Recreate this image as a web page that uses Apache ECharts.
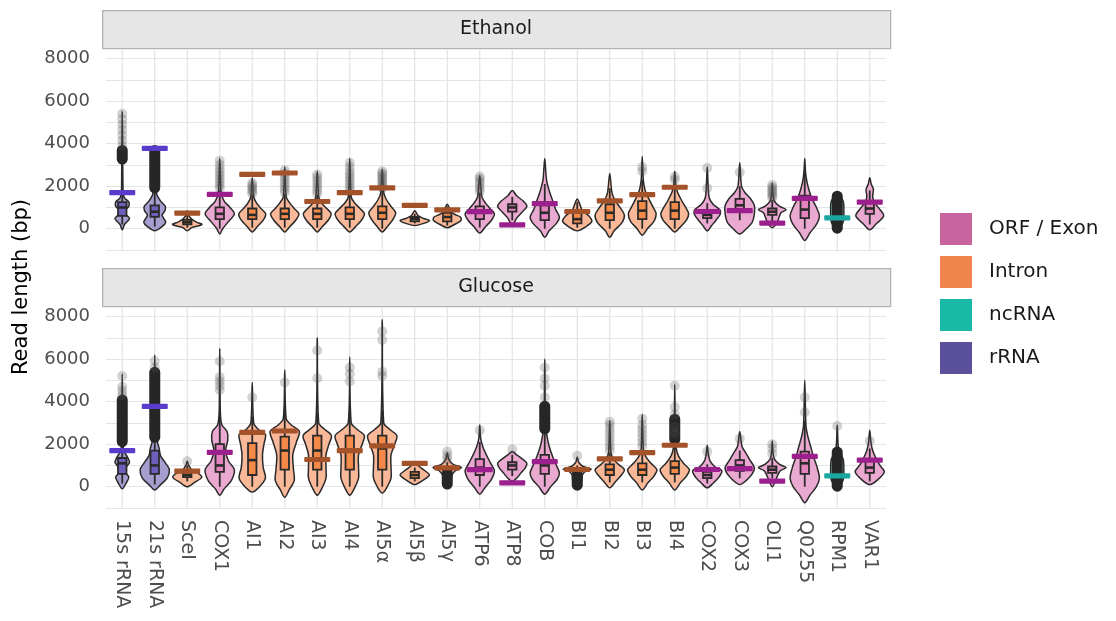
<!DOCTYPE html>
<html>
<head>
<meta charset="utf-8">
<script src="https://cdn.jsdelivr.net/npm/echarts@6/dist/echarts.min.js"></script>
<style>
  html, body { margin: 0; padding: 0; background: #fff; }
  #main { width: 1116px; height: 621px; }
</style>
</head>
<body>
<div id="main"></div>
<script>
// genes along the x axis
var categories = ['15s rRNA', '21s rRNA', 'SceI', 'COX1', 'AI1', 'AI2', 'AI3', 'AI4', 'AI5α', 'AI5β', 'AI5γ',
  'ATP6', 'ATP8', 'COB', 'BI1', 'BI2', 'BI3', 'BI4', 'COX2', 'COX3', 'OLI1', 'Q0255', 'RPM1', 'VAR1'];
var geneTypes = ['rRNA', 'rRNA', 'Intron', 'ORF / Exon', 'Intron', 'Intron', 'Intron', 'Intron', 'Intron', 'Intron', 'Intron',
  'ORF / Exon', 'ORF / Exon', 'ORF / Exon', 'Intron', 'Intron', 'Intron', 'Intron', 'ORF / Exon', 'ORF / Exon', 'ORF / Exon',
  'ORF / Exon', 'ncRNA', 'ORF / Exon'];
var typeNames = ['ORF / Exon', 'Intron', 'ncRNA', 'rRNA'];
// annotated length of each feature (bp)
var refLength = [1700, 3780, 730, 1610, 2550, 2620, 1280, 1700, 1920, 1100, 890, 800, 180, 1180, 810, 1310, 1600, 1950,
  810, 850, 260, 1430, 510, 1250];

// violin outlines: [read length, relative half width]
var ethanolViolin = [
  [[-50, 0], [200, 0.15], [480, 0.5], [700, 0.2], [850, 0.15], [1050, 0.45], [1250, 0.45], [1450, 0.15], [1700, 0.06], [2500, 0.04], [3500, 0.03], [5500, 0]],
  [[-100, 0], [100, 0.5], [300, 0.75], [500, 0.6], [650, 0.5], [850, 0.7], [1050, 0.72], [1300, 0.4], [1600, 0.15], [2000, 0.08], [3700, 0]],
  [[-100, 0], [50, 0.3], [200, 1.0], [320, 0.6], [450, 0.3], [600, 0.12], [850, 0]],
  [[-250, 0], [0, 0.2], [300, 0.55], [700, 1.0], [1000, 0.7], [1300, 0.3], [1700, 0.1], [2500, 0.04], [3300, 0]],
  [[-150, 0], [100, 0.35], [400, 0.75], [700, 0.92], [950, 0.6], [1200, 0.3], [1500, 0.1], [2400, 0]],
  [[-150, 0], [100, 0.35], [400, 0.75], [700, 0.97], [950, 0.65], [1200, 0.35], [1500, 0.1], [2900, 0]],
  [[-150, 0], [100, 0.35], [400, 0.75], [700, 0.95], [950, 0.65], [1200, 0.3], [1500, 0.1], [2700, 0]],
  [[-150, 0], [100, 0.4], [400, 0.8], [700, 1.0], [950, 0.7], [1200, 0.35], [1500, 0.1], [3300, 0]],
  [[-150, 0], [100, 0.35], [400, 0.7], [750, 0.92], [1050, 0.6], [1350, 0.3], [1700, 0.1], [2800, 0]],
  [[150, 0], [250, 0.6], [380, 1.0], [480, 0.6], [600, 0.25], [700, 0.15], [850, 0]],
  [[50, 0], [200, 0.5], [400, 0.95], [550, 0.9], [700, 0.45], [900, 0.2], [1150, 0]],
  [[-200, 0], [100, 0.4], [400, 0.8], [700, 1.0], [950, 0.7], [1200, 0.4], [1500, 0.15], [2500, 0]],
  [[150, 0], [300, 0.15], [500, 0.3], [800, 0.7], [1050, 1.0], [1300, 0.75], [1550, 0.3], [1800, 0]],
  [[-400, 0], [-100, 0.3], [250, 0.8], [550, 1.0], [900, 0.75], [1300, 0.55], [1800, 0.3], [2300, 0.12], [3300, 0]],
  [[-100, 0], [100, 0.6], [350, 1.0], [600, 0.8], [850, 0.35], [1100, 0.2], [1400, 0]],
  [[-400, 0], [-100, 0.3], [300, 0.85], [650, 1.0], [1000, 0.7], [1350, 0.35], [1700, 0.15], [2600, 0]],
  [[-300, 0], [0, 0.35], [350, 0.8], [700, 0.95], [1000, 0.75], [1400, 0.45], [1800, 0.2], [2300, 0.07], [3400, 0]],
  [[-150, 0], [100, 0.4], [400, 0.8], [700, 0.95], [1000, 0.75], [1350, 0.45], [1700, 0.2], [2000, 0.08], [2700, 0]],
  [[-100, 0], [150, 0.3], [400, 0.6], [700, 0.9], [900, 0.85], [1150, 0.4], [1500, 0.12], [2900, 0]],
  [[-250, 0], [0, 0.45], [300, 0.85], [700, 1.0], [1100, 1.0], [1400, 0.75], [1700, 0.35], [2000, 0.12], [3100, 0]],
  [[50, 0], [250, 0.3], [500, 0.45], [750, 0.6], [900, 0.95], [1050, 0.5], [1300, 0.15], [1600, 0.05], [2150, 0]],
  [[-550, 0], [-200, 0.35], [200, 0.8], [600, 1.0], [1000, 0.8], [1400, 0.5], [1800, 0.3], [2200, 0.15], [2700, 0.05], [3300, 0]],
  [[-50, 0], [300, 0.4], [800, 0.45], [1300, 0.4], [1600, 0]],
  [[-50, 0], [200, 0.4], [600, 0.95], [900, 0.7], [1200, 0.35], [1500, 0.2], [1850, 0.25], [2100, 0.1], [2400, 0]]
];
var glucoseViolin = [
  [[-100, 0], [150, 0.25], [450, 0.45], [700, 0.2], [950, 0.3], [1150, 0.5], [1400, 0.35], [1700, 0.1], [2200, 0.05], [5300, 0]],
  [[-150, 0], [100, 0.4], [400, 0.85], [800, 1.0], [1100, 0.75], [1450, 0.4], [1800, 0.3], [2200, 0.15], [2800, 0.06], [6200, 0]],
  [[0, 0], [200, 0.5], [450, 1.0], [650, 0.7], [800, 0.3], [1000, 0.1], [1200, 0]],
  [[-400, 0], [-100, 0.3], [300, 0.8], [800, 1.0], [1200, 0.6], [1700, 0.4], [2200, 0.55], [2600, 0.5], [2900, 0.15], [3500, 0.04], [6500, 0]],
  [[-250, 0], [0, 0.5], [400, 0.9], [900, 0.75], [1500, 0.7], [2000, 0.8], [2450, 0.9], [2700, 0.4], [3000, 0.1], [4900, 0]],
  [[-500, 0], [-150, 0.3], [300, 0.65], [800, 0.6], [1500, 0.55], [2100, 0.8], [2600, 1.0], [2900, 0.45], [3200, 0.1], [5500, 0]],
  [[-400, 0], [-100, 0.3], [400, 0.6], [900, 0.6], [1500, 0.6], [2000, 0.8], [2400, 0.97], [2700, 0.5], [3000, 0.1], [7000, 0]],
  [[-400, 0], [-100, 0.3], [400, 0.6], [900, 0.6], [1500, 0.6], [2000, 0.85], [2400, 1.0], [2700, 0.5], [3000, 0.1], [6100, 0]],
  [[-300, 0], [-50, 0.3], [400, 0.6], [900, 0.6], [1500, 0.6], [2000, 0.85], [2400, 1.0], [2700, 0.5], [3000, 0.1], [7850, 0]],
  [[100, 0], [300, 0.55], [550, 1.0], [750, 0.7], [950, 0.3], [1100, 0]],
  [[0, 0], [200, 0.25], [500, 0.3], [750, 0.55], [900, 0.97], [1050, 0.4], [1300, 0.1], [1600, 0]],
  [[-350, 0], [-50, 0.35], [350, 0.8], [750, 1.0], [1100, 0.75], [1500, 0.45], [1900, 0.2], [2300, 0.06], [2900, 0]],
  [[250, 0], [400, 0.3], [650, 0.6], [900, 0.9], [1100, 1.0], [1300, 0.7], [1500, 0.3], [1650, 0]],
  [[-350, 0], [0, 0.4], [350, 0.85], [650, 1.0], [1000, 0.8], [1400, 0.55], [1900, 0.3], [2400, 0.15], [3000, 0.05], [6000, 0]],
  [[0, 0], [250, 0.3], [550, 0.35], [750, 0.6], [830, 0.95], [950, 0.4], [1150, 0.1], [1400, 0]],
  [[-50, 0], [250, 0.4], [550, 0.8], [800, 1.0], [1050, 0.6], [1300, 0.25], [1600, 0.08], [3100, 0]],
  [[-150, 0], [200, 0.4], [500, 0.8], [800, 1.0], [1100, 0.6], [1400, 0.25], [1700, 0.08], [3400, 0]],
  [[-150, 0], [200, 0.4], [500, 0.8], [800, 1.0], [1100, 0.6], [1450, 0.25], [1800, 0.1], [2400, 0.04], [4800, 0]],
  [[-50, 0], [200, 0.45], [450, 0.8], [750, 1.0], [950, 0.5], [1200, 0.2], [1500, 0.08], [1950, 0]],
  [[100, 0], [300, 0.45], [600, 0.85], [900, 1.0], [1250, 0.7], [1600, 0.4], [1900, 0.15], [2600, 0]],
  [[0, 0], [250, 0.2], [500, 0.35], [750, 0.55], [900, 0.95], [1050, 0.5], [1300, 0.15], [1600, 0.05], [2150, 0]],
  [[-750, 0], [-400, 0.35], [0, 0.8], [400, 1.0], [900, 0.85], [1400, 0.6], [1900, 0.4], [2400, 0.2], [2900, 0.08], [5000, 0]],
  [[-50, 0], [300, 0.4], [800, 0.45], [1300, 0.4], [1700, 0.1], [2900, 0]],
  [[100, 0], [300, 0.5], [700, 1.0], [1000, 0.7], [1300, 0.45], [1700, 0.2], [2100, 0.08], [2650, 0]]
];

// boxplots: [lower whisker, Q1, median, Q3, upper whisker]
var ethanolBox = [
  [200, 600, 1000, 1250, 2200], [100, 560, 800, 1100, 1900], [50, 200, 300, 420, 650], [0, 450, 700, 1000, 1800],
  [50, 450, 650, 950, 1600], [50, 450, 700, 950, 1650], [50, 450, 700, 950, 1600], [50, 450, 700, 1000, 1700],
  [0, 450, 750, 1050, 1800], [250, 350, 450, 550, 700], [150, 350, 550, 750, 1050], [50, 450, 750, 1050, 1700],
  [400, 800, 1000, 1150, 1500], [0, 400, 750, 1100, 2100], [50, 250, 450, 750, 1250], [0, 400, 750, 1150, 1900],
  [0, 450, 850, 1300, 2300], [0, 450, 850, 1250, 2100], [250, 500, 650, 800, 1200], [400, 850, 1100, 1400, 2000],
  [350, 650, 800, 950, 1350], [0, 500, 900, 1550, 2800], [300, 450, 500, 600, 750], [200, 700, 950, 1250, 1800]
];
var glucoseBox = [
  [150, 600, 1100, 1350, 2000], [100, 600, 1000, 1700, 3200], [250, 450, 550, 680, 1000], [0, 700, 1000, 2000, 3500],
  [0, 550, 1250, 2050, 3300], [0, 800, 1700, 2350, 3700], [0, 800, 1700, 2400, 3500], [0, 800, 1700, 2400, 3600],
  [0, 800, 1800, 2400, 3600], [250, 400, 550, 700, 900], [350, 650, 800, 900, 1150], [0, 550, 900, 1300, 2100],
  [500, 800, 1000, 1150, 1500], [0, 600, 1000, 1500, 2700], [400, 600, 750, 850, 1000], [200, 550, 800, 1050, 1600],
  [200, 550, 800, 1100, 1650], [200, 600, 900, 1200, 1900], [150, 400, 550, 700, 1050], [400, 750, 1000, 1250, 1700],
  [400, 650, 800, 950, 1350], [0, 600, 1100, 1650, 3100], [300, 420, 500, 600, 750], [250, 650, 900, 1250, 1800]
];

// single outlier reads per gene
var ethanolOutliers = [
  [3900, 4150, 4400, 4650, 4900, 5150, 5400], [], [], [1900, 2050, 2200, 2350, 2500, 2650, 2800, 3000, 3200],
  [1650, 1750, 1850, 1950, 2050, 2150], [1700, 1850, 2000, 2150, 2300, 2450, 2600, 2750],
  [1650, 1800, 1950, 2100, 2250, 2400, 2550], [1800, 1950, 2100, 2250, 2400, 2550, 2700, 2900, 3100],
  [1900, 2000, 2100, 2200, 2300, 2400, 2500, 2600, 2700], [], [], [1750, 1900, 2050, 2200, 2350, 2450],
  [], [], [], [], [2700, 2900], [2300, 2450], [1900, 2850], [2650], [1450, 1550, 1650, 1750, 1850, 1950, 2050], [], [], []
];
var glucoseOutliers = [
  [4300, 4500, 4700, 5200], [5600, 5900], [1200], [4550, 4750, 4950, 5150, 5900], [4200], [4900], [5100, 6400],
  [4950, 5300, 5600], [5200, 5400, 6900, 7300], [], [1300, 1450, 1650], [2650], [1750], [4200, 4750, 5100, 5600],
  [1450], [1700, 1900, 2100, 2300, 2500, 2700, 2900, 3050], [1900, 2100, 2300, 2500, 2700, 2900, 3200],
  [2500, 2800, 3400, 3750, 4750], [1650], [2250], [1550, 1800, 2000], [3500, 4200], [2850], [2150]
];
// stretches where overlapping outliers merge into a solid column: [gene index, from, to]
var ethanolDense = [[0, 3250, 3700], [1, 1900, 3700], [22, 0, 1550]];
var glucoseDense = [[0, 2100, 4100], [1, 2300, 5400], [10, 100, 600], [13, 2700, 3800], [14, 50, 500], [17, 2200, 3200], [22, 0, 1650]];

var yTicks = [0, 2000, 4000, 6000, 8000];

// styling
var FONT = "'DejaVu Sans', sans-serif";
var typeColor = { 'ORF / Exon': '#c8649f', 'Intron': '#f0834b', 'ncRNA': '#19b9a5', 'rRNA': '#5a509b' };
var violinFill = { 'ORF / Exon': '#eaa9d0', 'Intron': '#f9b898', 'ncRNA': '#8fdcd2', 'rRNA': '#a59ecf' };
var boxFill = { 'ORF / Exon': '#e483bd', 'Intron': '#f58a48', 'ncRNA': '#29b9a9', 'rRNA': '#6e5fbf' };
var refColor = { 'ORF / Exon': '#9b1f8c', 'Intron': '#a4522a', 'ncRNA': '#1aa7a1', 'rRNA': '#5a3ccc' };
var INK = '#2a2a2a';
var GRIDC = '#e3e6e9';
var Y_MIN = -1000, Y_MAX = 8400;

var myChart = echarts.init(document.getElementById('main'));

function violinRender(profiles) {
  return function (params, api) {
    var i = api.value(0);
    var prof = profiles[i];
    var half = api.size([1, 0])[0] * 0.45;
    var pts = [];
    var j, c;
    for (j = 0; j < prof.length; j++) {
      c = api.coord([i, prof[j][0]]);
      pts.push([c[0] + prof[j][1] * half, c[1]]);
    }
    for (j = prof.length - 2; j > 0; j--) {
      c = api.coord([i, prof[j][0]]);
      pts.push([c[0] - prof[j][1] * half, c[1]]);
    }
    return {
      type: 'polygon',
      shape: { points: pts, smooth: 0.3 },
      style: { fill: violinFill[geneTypes[i]], stroke: INK, lineWidth: 1.5 }
    };
  };
}

function boxRender(params, api) {
  var i = api.value(0);
  var lo = api.coord([i, api.value(1)]);
  var q1 = api.coord([i, api.value(2)]);
  var md = api.coord([i, api.value(3)]);
  var q3 = api.coord([i, api.value(4)]);
  var hi = api.coord([i, api.value(5)]);
  var hw = api.size([1, 0])[0] * 0.13;
  var x = md[0];
  var ls = { stroke: INK, lineWidth: 1.8 };
  return {
    type: 'group',
    children: [
      { type: 'line', shape: { x1: x, y1: lo[1], x2: x, y2: q1[1] }, style: ls },
      { type: 'line', shape: { x1: x, y1: q3[1], x2: x, y2: hi[1] }, style: ls },
      { type: 'rect', shape: { x: x - hw, y: q3[1], width: 2 * hw, height: q1[1] - q3[1] },
        style: { fill: boxFill[geneTypes[i]], stroke: INK, lineWidth: 1.8 } },
      { type: 'line', shape: { x1: x - hw, y1: md[1], x2: x + hw, y2: md[1] }, style: { stroke: INK, lineWidth: 2.6 } }
    ]
  };
}

function denseRender(params, api) {
  var top = api.coord([api.value(0), api.value(2)]);
  var bot = api.coord([api.value(0), api.value(1)]);
  return {
    type: 'rect',
    shape: { x: top[0] - 5.5, y: top[1] - 5, width: 11, height: bot[1] - top[1] + 10, r: 5.5 },
    style: { fill: '#262626' }
  };
}

function refRender(params, api) {
  var i = api.value(0);
  var c = api.coord([i, api.value(1)]);
  var w = api.size([1, 0])[0] * 0.8;
  return {
    type: 'rect',
    shape: { x: c[0] - w / 2, y: c[1] - 2.6, width: w, height: 5.2, r: 1 },
    style: { fill: refColor[geneTypes[i]] }
  };
}

// vertical grid line through each gene position
function gridLineRender(params, api) {
  var i = api.value(0);
  var a = api.coord([i, Y_MIN]);
  var b = api.coord([i, Y_MAX]);
  return {
    type: 'line',
    shape: { x1: a[0], y1: a[1], x2: b[0], y2: b[1] },
    style: { stroke: GRIDC, lineWidth: 1.3 },
    silent: true
  };
}

var panels = [
  { title: 'Ethanol', violin: ethanolViolin, box: ethanolBox, outliers: ethanolOutliers, dense: ethanolDense },
  { title: 'Glucose', violin: glucoseViolin, box: glucoseBox, outliers: glucoseOutliers, dense: glucoseDense }
];
var gridTops = [50, 308];

var series = [];
var xAxes = [];
var yAxes = [];
var grids = [];
var graphics = [];

panels.forEach(function (p, k) {
  grids.push({ left: 106, width: 780, top: gridTops[k], height: 200 });
  xAxes.push({
    type: 'category', gridIndex: k, data: categories, boundaryGap: true,
    axisLine: { show: false },
    axisTick: { show: false },
    axisLabel: k === 1
      ? { show: true, interval: 0, rotate: -90, fontSize: 19, fontFamily: FONT, color: '#4d4d4d', margin: 12 }
      : { show: false },
    splitLine: { show: false }
  });
  yAxes.push({
    type: 'value', gridIndex: k, min: Y_MIN, max: Y_MAX, interval: 1000,
    axisLine: { show: false }, axisTick: { show: false },
    axisLabel: {
      fontSize: 18, fontFamily: FONT, color: '#4d4d4d', margin: 16,
      formatter: function (v) { return yTicks.indexOf(v) >= 0 ? String(v) : ''; }
    },
    splitLine: { show: true, showMaxLine: false, lineStyle: { color: GRIDC, width: 1.2 } }
  });

  series.push({
    type: 'custom', name: 'grid ' + p.title, xAxisIndex: k, yAxisIndex: k, z: 1, silent: true,
    renderItem: gridLineRender,
    data: categories.map(function (c, i) { return [i, 0]; })
  });

  typeNames.forEach(function (t) {
    var data = [];
    categories.forEach(function (c, i) {
      if (geneTypes[i] === t) data.push([i, p.box[i][2]]);
    });
    series.push({
      type: 'custom', name: t, xAxisIndex: k, yAxisIndex: k, z: 2,
      itemStyle: { color: typeColor[t] },
      renderItem: violinRender(p.violin),
      data: data
    });
  });

  series.push({
    type: 'custom', name: 'box ' + p.title, xAxisIndex: k, yAxisIndex: k, z: 3,
    renderItem: boxRender,
    data: categories.map(function (c, i) { return [i].concat(p.box[i]); })
  });

  var pts = [];
  p.outliers.forEach(function (list, i) {
    list.forEach(function (v) { pts.push([i, v]); });
  });
  series.push({
    type: 'scatter', name: 'outliers ' + p.title, xAxisIndex: k, yAxisIndex: k, z: 4,
    symbol: 'circle', symbolSize: 10,
    itemStyle: { color: 'rgba(80,80,80,0.32)' },
    data: pts
  });

  series.push({
    type: 'custom', name: 'dense ' + p.title, xAxisIndex: k, yAxisIndex: k, z: 4,
    renderItem: denseRender,
    data: p.dense
  });

  series.push({
    type: 'custom', name: 'length ' + p.title, xAxisIndex: k, yAxisIndex: k, z: 5,
    renderItem: refRender,
    data: categories.map(function (c, i) { return [i, refLength[i]]; })
  });

  graphics.push({
    type: 'rect', left: 102, top: gridTops[k] - 40, z: 10,
    shape: { width: 788, height: 38 },
    style: { fill: '#e6e6e6', stroke: '#b3b3b3', lineWidth: 1.3 }
  });
  graphics.push({
    type: 'text', x: 496, y: gridTops[k] - 21, z: 11,
    style: { text: p.title, fontSize: 19, fontFamily: FONT, fill: '#1a1a1a', align: 'center', verticalAlign: 'middle' }
  });
});

graphics.push({
  type: 'text', x: 22, y: 287, rotation: Math.PI / 2,
  style: { text: 'Read length (bp)', fontSize: 21, fontFamily: FONT, fill: '#000', align: 'center', verticalAlign: 'middle' }
});

var option = {
  animation: false,
  backgroundColor: '#fff',
  grid: grids,
  xAxis: xAxes,
  yAxis: yAxes,
  legend: {
    data: typeNames,
    orient: 'vertical',
    left: 935, top: 208,
    itemWidth: 32, itemHeight: 32, itemGap: 11,
    icon: 'rect',
    selectedMode: false,
    textStyle: { fontSize: 20, fontFamily: FONT, color: '#1a1a1a', padding: [0, 0, 0, 12] }
  },
  graphic: graphics,
  series: series
};

myChart.setOption(option);
</script>
</body>
</html>
